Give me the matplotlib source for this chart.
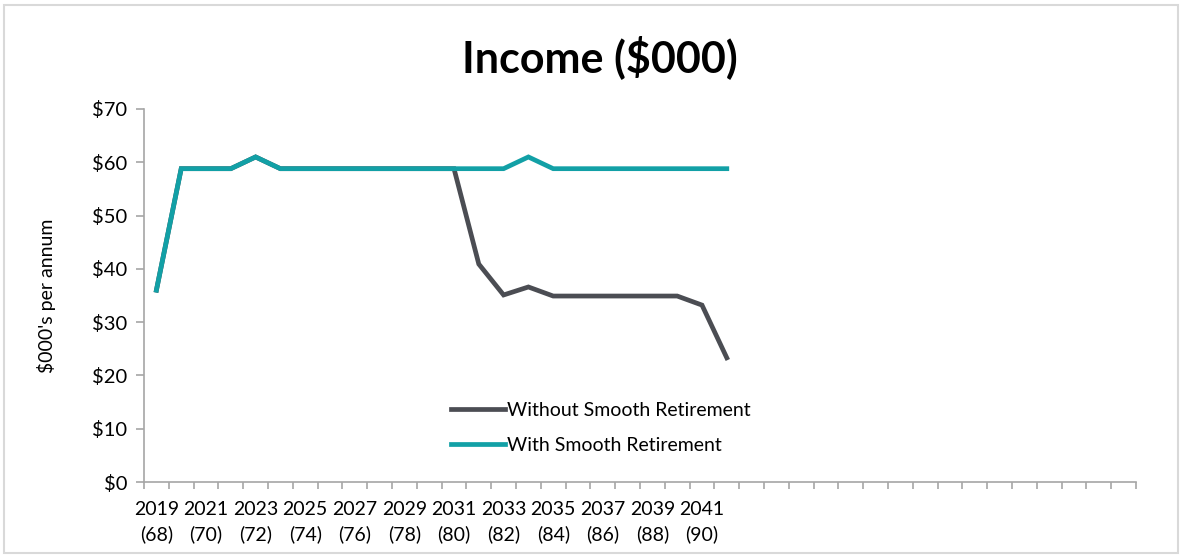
import matplotlib
matplotlib.use("Agg")
import matplotlib.pyplot as plt
from matplotlib.patches import Rectangle

plt.rcParams['font.family'] = ['Lato', 'DejaVu Sans']

# category axis runs 2019..2058, data only to 2042
years = list(range(2019, 2059))
ages = [y - 1951 for y in years]
data_years = list(range(2019, 2043))

with_smooth = [36, 58.8, 58.8, 58.8, 61, 58.8, 58.8, 58.8, 58.8, 58.8, 58.8, 58.8,
               58.8, 58.8, 58.8, 61, 58.8, 58.8, 58.8, 58.8, 58.8, 58.8, 58.8, 58.8]
without_smooth = [36, 58.8, 58.8, 58.8, 61, 58.8, 58.8, 58.8, 58.8, 58.8, 58.8, 58.8,
                  58.8, 40.9, 35.1, 36.6, 34.9, 34.9, 34.9, 34.9, 34.9, 34.9, 33.2, 23.3]

tick_labels = []
for i, (y, a) in enumerate(zip(years, ages)):
    if i % 2 == 0 and y <= 2041:
        tick_labels.append("{}\n({})".format(y, a))
    else:
        tick_labels.append("")

grey = '#4b4d53'
teal = '#12a0a6'
axis_col = '#a6a6a6'

fig = plt.figure(figsize=(11.82, 5.56), dpi=100)
ax = fig.add_axes([144/1182, 1-482/556, (1136-144)/1182, (482-109)/556])

xs = [years.index(y) for y in data_years]
ax.plot(xs, without_smooth, color=grey, lw=3.4, label='Without Smooth Retirement', solid_joinstyle='miter')
ax.plot(xs, with_smooth, color=teal, lw=3.4, label='With Smooth Retirement', solid_joinstyle='miter')

ax.set_xlim(-0.5, len(years) - 0.5)
ax.set_ylim(0, 70)
ax.set_yticks(range(0, 71, 10))
ax.set_yticklabels(["${}".format(v) for v in range(0, 71, 10)])
ax.set_xticks(range(len(years)))
ax.set_xticklabels(tick_labels, linespacing=1.45)
ax.set_xticks([i - 0.5 for i in range(len(years) + 1)], minor=True)
ax.tick_params(axis='x', which='major', length=0, pad=14, labelsize=14)
ax.tick_params(axis='x', which='minor', length=5, color=axis_col, width=1.2, direction='out')
ax.tick_params(axis='y', length=6, color=axis_col, width=1.2, labelsize=14.5, pad=6)

for s in ['top', 'right']:
    ax.spines[s].set_visible(False)
for s in ['left', 'bottom']:
    ax.spines[s].set_color(axis_col)
    ax.spines[s].set_linewidth(1.2)

ax.set_ylabel("$000's per annum", fontsize=14, labelpad=26)
fig.text(600/1182, 1-57/556, "Income ($000)", ha='center', va='center',
         fontsize=31, fontweight='bold')

ax.legend(loc='upper left', bbox_to_anchor=(433/1182, 1-384/556),
          bbox_transform=fig.transFigure, frameon=False, fontsize=14,
          handlelength=2.8, handletextpad=0.1, labelspacing=0.95)

fig.patches.append(Rectangle((4/1182, 3/556), 1174/1182, 548/556, transform=fig.transFigure,
                             fill=False, edgecolor='#d9d9d9', lw=1.5))

fig.savefig('out.png', dpi=100)
